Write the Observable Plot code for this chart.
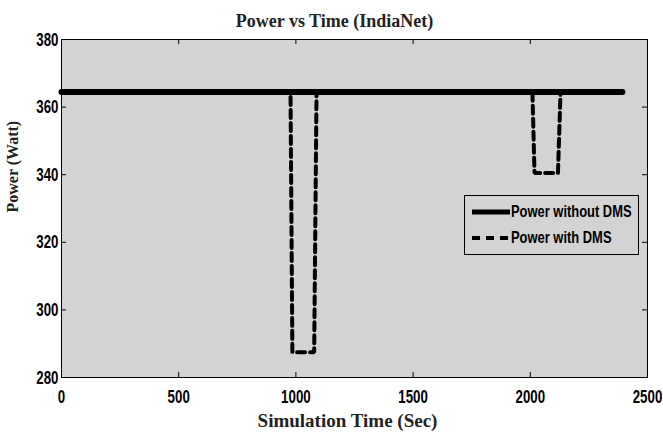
<!DOCTYPE html>
<html><head><meta charset="utf-8">
<script src="https://cdn.jsdelivr.net/npm/d3@7"></script>
<script src="https://cdn.jsdelivr.net/npm/@observablehq/plot@0.6"></script>
<style>
body{margin:0;background:#fff;}
#wrap{position:relative;width:663px;height:437px;}
#legend{position:absolute;left:464px;top:195px;width:175px;height:60px;border:1.5px solid #000;box-sizing:border-box;background:#d3d3d3;font:bold 17px "Liberation Sans",Arial,sans-serif;}
#legend .row{display:flex;align-items:center;height:26px;padding-left:7px;white-space:nowrap;}
#legend .row:first-child{margin-top:3px;}
#legend svg{margin-right:1px;flex:none;}
#legend span{display:inline-block;transform:scaleX(0.76);transform-origin:left center;}
</style>
</head><body>
<div id="wrap"><div id="chart"></div><div id="legend"></div></div>
<script>
const title = "Power vs Time (IndiaNet)";
const xLabel = "Simulation Time (Sec)";
const yLabel = "Power (Watt)";
const seriesNames = ["Power without DMS", "Power with DMS"];
const xDomain = [0, 2500];
const yDomain = [280, 380];
const xTicks = [0, 500, 1000, 1500, 2000, 2500];
const yTicks = [280, 300, 320, 340, 360, 380];
const noDmsTime = [0, 2393];
const noDmsPower = [364.5, 364.5];
const dmsTime = [0, 977, 985, 1078, 1088, 2009, 2018, 2118, 2129, 2393];
const dmsPower = [364.5, 364.5, 287.5, 287.5, 364.5, 364.5, 340.5, 340.5, 364.5, 364.5];

const noDms = noDmsTime.map((t, i) => ({t, p: noDmsPower[i]}));
const dms = dmsTime.map((t, i) => ({t, p: dmsPower[i]}));

const W = 663, H = 437, mL = 61, mR = 16, mT = 39, mB = 60;
const innerW = W - mL - mR, innerH = H - mT - mB, tk = 5;
const dy = tk / innerH * (yDomain[1] - yDomain[0]);
const dx = tk / innerW * (xDomain[1] - xDomain[0]);

const tickFont = {fontFamily: '"Liberation Sans",Arial,sans-serif', fontWeight: "bold", fontSize: 19};
const serif = '"Liberation Serif","Times New Roman",serif';

const chart = Plot.plot({
  width: W, height: H,
  marginLeft: mL, marginRight: mR, marginTop: mT, marginBottom: mB,
  x: {domain: xDomain},
  y: {domain: yDomain},
  style: {background: "#fff", color: "#000"},
  marks: [
    Plot.frame({fill: "#d3d3d3"}),
    Plot.ruleX(xTicks, {x: d => d, y1: yDomain[0], y2: yDomain[0] + dy, stroke: "#000"}),
    Plot.ruleX(xTicks, {x: d => d, y1: yDomain[1], y2: yDomain[1] - dy, stroke: "#000"}),
    Plot.ruleY(yTicks, {y: d => d, x1: xDomain[0], x2: xDomain[0] + dx, stroke: "#000"}),
    Plot.ruleY(yTicks, {y: d => d, x1: xDomain[1], x2: xDomain[1] - dx, stroke: "#000"}),
    Plot.line(noDms, {x: "t", y: "p", stroke: "#000", strokeWidth: 6}),
    Plot.line(dms, {x: "t", y: "p", stroke: "#000", strokeWidth: 4, strokeDasharray: "8,5", strokeLinejoin: "miter"}),
    Plot.axisX({ticks: xTicks, anchor: "bottom", tickSize: 0, tickPadding: 12, label: null, tickFormat: d => String(d), ...tickFont, className: "tl"}),
    Plot.axisY({ticks: yTicks, anchor: "left", tickSize: 0, tickPadding: 3, label: null, tickFormat: d => String(d), ...tickFont, className: "tl"}),
    Plot.frame({stroke: "#000", strokeWidth: 1}),
    Plot.text([title], {frameAnchor: "top", dy: -25, dx: -20, fontFamily: serif, fontWeight: "bold", fontSize: 18, fill: "#222"}),
    Plot.text([xLabel], {frameAnchor: "bottom", dy: 49, dx: -7, fontFamily: serif, fontWeight: "bold", fontSize: 19, fill: "#222"}),
    Plot.text([yLabel], {frameAnchor: "left", dx: -49, dy: 4, rotate: -90, fontFamily: serif, fontWeight: "bold", fontSize: 16, fill: "#222"})
  ]
});
document.getElementById("chart").append(chart);
// condense tick labels horizontally (narrow bold face in reference)
chart.querySelectorAll("g.tl text").forEach(t => {
  const tr = t.getAttribute("transform") || "";
  t.setAttribute("transform", tr + " scale(0.7,1)");
});

const leg = document.getElementById("legend");
seriesNames.forEach((name, i) => {
  const row = document.createElement("div");
  row.className = "row";
  const dash = i === 0 ? "" : 'stroke-dasharray="8,6"';
  row.innerHTML = `<svg width="38" height="8"><line x1="0" y1="4" x2="38" y2="4" stroke="#000" stroke-width="${i===0?5:4}" ${dash}/></svg><span>${name}</span>`;
  leg.append(row);
});
</script>
</body></html>
